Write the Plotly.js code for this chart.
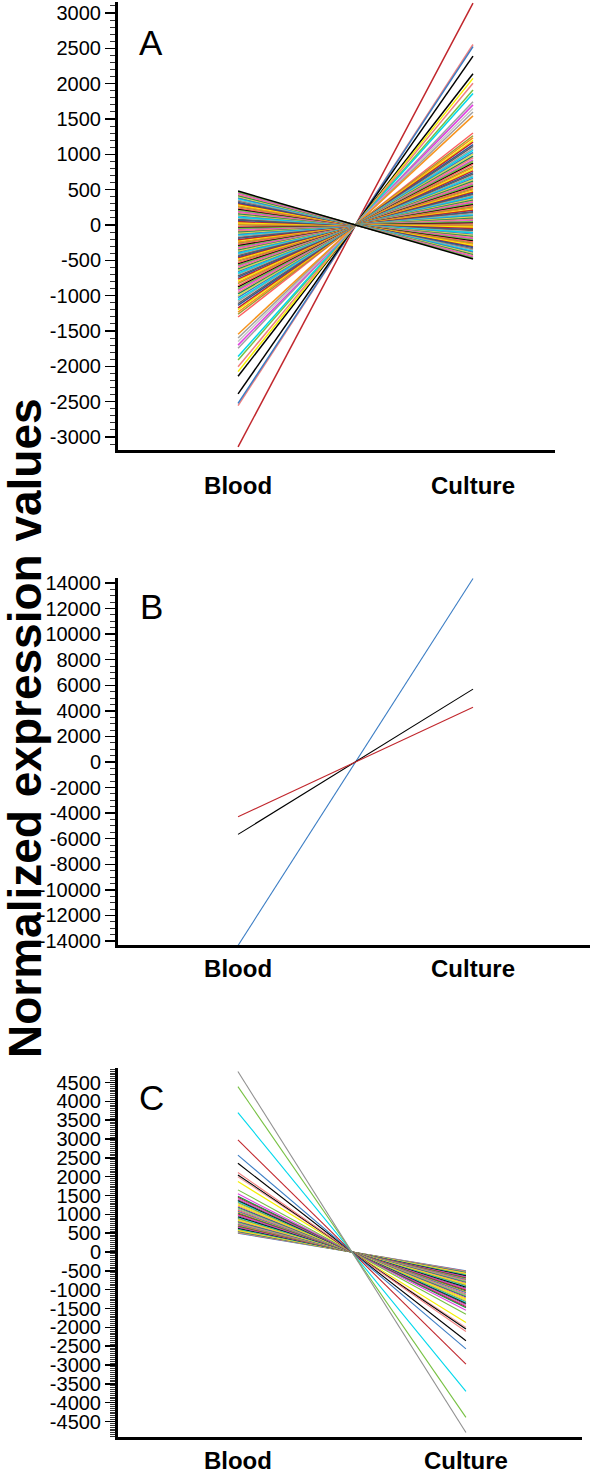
<!DOCTYPE html>
<html>
<head>
<meta charset="utf-8">
<script src="https://cdn.plot.ly/plotly-3.0.1.min.js"></script>
<style>
  body { margin: 0; background: white; }
  #graph { width: 600px; height: 1469px; }
</style>
</head>
<body>
<div id="graph"></div>
<script>
let categories = ['Blood', 'Culture'];

let palette = ['#000000', '#c1272d', '#3b7dc4', '#77c143', '#f5f000', '#00d8ec', '#e040e0', '#f7941d',
               '#a0a0a0', '#f08080', '#9a9a30', '#606060', '#1e8c4a', '#ff6060', '#2a5599', '#d8d850'];

// panel A : value at Blood, value at Culture for each gene
let bloodA = [480, 466, 452, 433, 419, 402, 386, 371, 351, 339, 318, 306, 289, 271, 259, 239, 226, 208, 193, 177,
              161, 144, 131, 110, 99, 79, 66, 48, 33, 17, 2, -16, -29, -49, -61, -82, -94, -112, -127, -143,
              -158, -176, -189, -209, -221, -241, -254, -272, -286, -303, -319, -336, -349, -369, -381, -401, -414, -432, -447, -463,
              -479, -497, -511, -532, -547, -566, -581, -602, -619, -641, -658, -682, -699, -722, -741, -766, -787, -812, -830, -857,
              -876, -902, -923, -952, -973, -1002, -1026, -1057, -1080, -1112, -1138, -1172, -1198, -1232, -1263, -1302,
              -1545, -1600, -1650, -1700, -1745, -1860, -1910, -2005, -2075, -2140, -2390, -2525, -2555, -3140];
let cultureA = [-480, -466, -452, -433, -419, -402, -386, -371, -351, -339, -318, -306, -289, -271, -259, -239, -226, -208, -193, -177,
              -161, -144, -131, -110, -99, -79, -66, -48, -33, -17, -2, 16, 29, 49, 61, 82, 94, 112, 127, 143,
              158, 176, 189, 209, 221, 241, 254, 272, 286, 303, 319, 336, 349, 369, 381, 401, 414, 432, 447, 463,
              479, 497, 511, 532, 547, 566, 581, 602, 619, 641, 658, 682, 699, 722, 741, 766, 787, 812, 830, 857,
              876, 902, 923, 952, 973, 1002, 1026, 1057, 1080, 1112, 1138, 1172, 1198, 1232, 1263, 1302,
              1545, 1600, 1650, 1700, 1745, 1860, 1910, 2005, 2075, 2140, 2390, 2525, 2555, 3140];
let sparseColorsA = ['#f7941d', '#a0a0a0', '#c8c8c8', '#e040e0', '#a0a0a0', '#00d8ec', '#77c143', '#f08080',
                     '#f5f000', '#000000', '#000000', '#3b7dc4', '#f08080', '#c1272d'];

// panel B
let bloodB = [-4280, -5660, -14350];
let cultureB = [4280, 5700, 14350];
let colorsB = ['#c1272d', '#000000', '#3b7dc4'];

// panel C
let bloodC = [4790, 4390, 3700, 2975, 2570, 2355, 2110, 2045, 2000, 1870, 1650, 1545,
              1480, 1455, 1422, 1388, 1366, 1338, 1312, 1279, 1251, 1222, 1193, 1171, 1138, 1112, 1083, 1061,
              1034, 1012, 983, 962, 938, 917, 893, 871, 849, 832, 808, 792, 768, 751, 733, 716, 698, 683,
              664, 651, 633, 621, 604, 591, 574, 563, 549, 539, 524, 513, 500];
let cultureC = [-4790, -4390, -3700, -2975, -2570, -2355, -2110, -2045, -2000, -1870, -1650, -1545,
              -1480, -1455, -1422, -1388, -1366, -1338, -1312, -1279, -1251, -1222, -1193, -1171, -1138, -1112, -1083, -1061,
              -1034, -1012, -983, -962, -938, -917, -893, -871, -849, -832, -808, -792, -768, -751, -733, -716, -698, -683,
              -664, -651, -633, -621, -604, -591, -574, -563, -549, -539, -524, -513, -500];
let sparseColorsC = ['#909090', '#77c143', '#00d8ec', '#c1272d', '#3b7dc4', '#000000', '#f08080', '#000000',
                     '#f0a0a0', '#f5f000', '#77c143', '#e040e0'];

let ticksA = [-3000, -2500, -2000, -1500, -1000, -500, 0, 500, 1000, 1500, 2000, 2500, 3000];
let ticksB = [-14000, -12000, -10000, -8000, -6000, -4000, -2000, 0, 2000, 4000, 6000, 8000, 10000, 12000, 14000];
let ticksC = [-4500, -4000, -3500, -3000, -2500, -2000, -1500, -1000, -500, 0, 500, 1000, 1500, 2000, 2500, 3000, 3500, 4000, 4500];

let data = [];

function addLines(blood, culture, xa, ya, colors, width) {
    for (let i = blood.length - 1; i >= 0; i--) {
        data.push({
            x: categories,
            y: [blood[i], culture[i]],
            xaxis: xa,
            yaxis: ya,
            type: 'scatter',
            mode: 'lines',
            line: {color: colors(i), width: width},
            hoverinfo: 'y'
        });
    }
}

let nDenseA = bloodA.length - sparseColorsA.length;
addLines(bloodA, cultureA, 'x', 'y', i => i < nDenseA ? palette[(i * 3) % palette.length] : sparseColorsA[i - nDenseA], 1.5);
addLines(bloodB, cultureB, 'x2', 'y2', i => colorsB[i], 1.1);
let nSparseC = sparseColorsC.length;
addLines(bloodC, cultureC, 'x3', 'y3', i => i < nSparseC ? sparseColorsC[i] : palette[(i * 5) % palette.length], 1.1);

const W = 600, H = 1469;
function py(v) { return 1 - v / H; }

let fontFam = '"Liberation Sans", Arial, sans-serif';

function xAxis(left, right, r0, r1, anchor, standoff) {
    return {
        domain: [left / W, right / W],
        anchor: anchor,
        type: 'category',
        range: [r0, r1],
        showline: true, linewidth: 3, linecolor: '#000',
        ticks: '', showgrid: false, zeroline: false,
        ticklabelstandoff: standoff,
        tickfont: {family: fontFam, size: 24, weight: 'bold', color: '#000'}
    };
}

function yAxis(top, bottom, r0, r1, ticks, minorStep, anchor, standoff) {
    return {
        domain: [py(bottom), py(top)],
        anchor: anchor,
        range: [r0, r1],
        tickvals: ticks,
        ticktext: ticks.map(v => String(v)),
        ticks: 'outside', ticklen: 10, tickwidth: 1.5, tickcolor: '#000',
        minor: {ticks: 'outside', ticklen: 5, tickwidth: 1, tickcolor: '#333', dtick: minorStep},
        showline: true, linewidth: 3, linecolor: '#000',
        showgrid: false, zeroline: false,
        ticklabelstandoff: standoff,
        tickfont: {family: fontFam, size: 20, color: '#000'}
    };
}

let layout = {
    width: W, height: H,
    margin: {l: 0, r: 0, t: 0, b: 0},
    paper_bgcolor: 'white', plot_bgcolor: 'white',
    showlegend: false,
    xaxis: xAxis(118, 555, -0.511, 1.349, 'y', 12),
    yaxis: yAxis(2, 450, -3184, 3156, ticksA, 100, 'x', 0),
    xaxis2: xAxis(118, 590, -0.511, 1.498, 'y2', 0),
    yaxis2: yAxis(578, 945, -14313, 14391, ticksB, 500, 'x2', 0),
    xaxis3: xAxis(118, 582, -0.526, 1.509, 'y3', 0),
    yaxis3: yAxis(1068, 1437, -4911, 4885, ticksC, 50, 'x3', 0),
    annotations: [
        {text: 'Normalized expression values', textangle: -90, showarrow: false,
         xref: 'paper', yref: 'paper', x: 25 / W, y: py(728), xanchor: 'center', yanchor: 'middle',
         font: {family: fontFam, size: 46, weight: 'bold', color: '#000'}},
        {text: 'A', showarrow: false, xref: 'paper', yref: 'paper', x: 151 / W, y: py(43),
         xanchor: 'center', yanchor: 'middle', font: {family: fontFam, size: 35, color: '#000'}},
        {text: 'B', showarrow: false, xref: 'paper', yref: 'paper', x: 151 / W, y: py(606),
         xanchor: 'center', yanchor: 'middle', font: {family: fontFam, size: 35, color: '#000'}},
        {text: 'C', showarrow: false, xref: 'paper', yref: 'paper', x: 151 / W, y: py(1097),
         xanchor: 'center', yanchor: 'middle', font: {family: fontFam, size: 35, color: '#000'}}
    ]
};

let config = {displayModeBar: false, staticPlot: true};

Plotly.newPlot('graph', data, layout, config);
</script>
</body>
</html>
